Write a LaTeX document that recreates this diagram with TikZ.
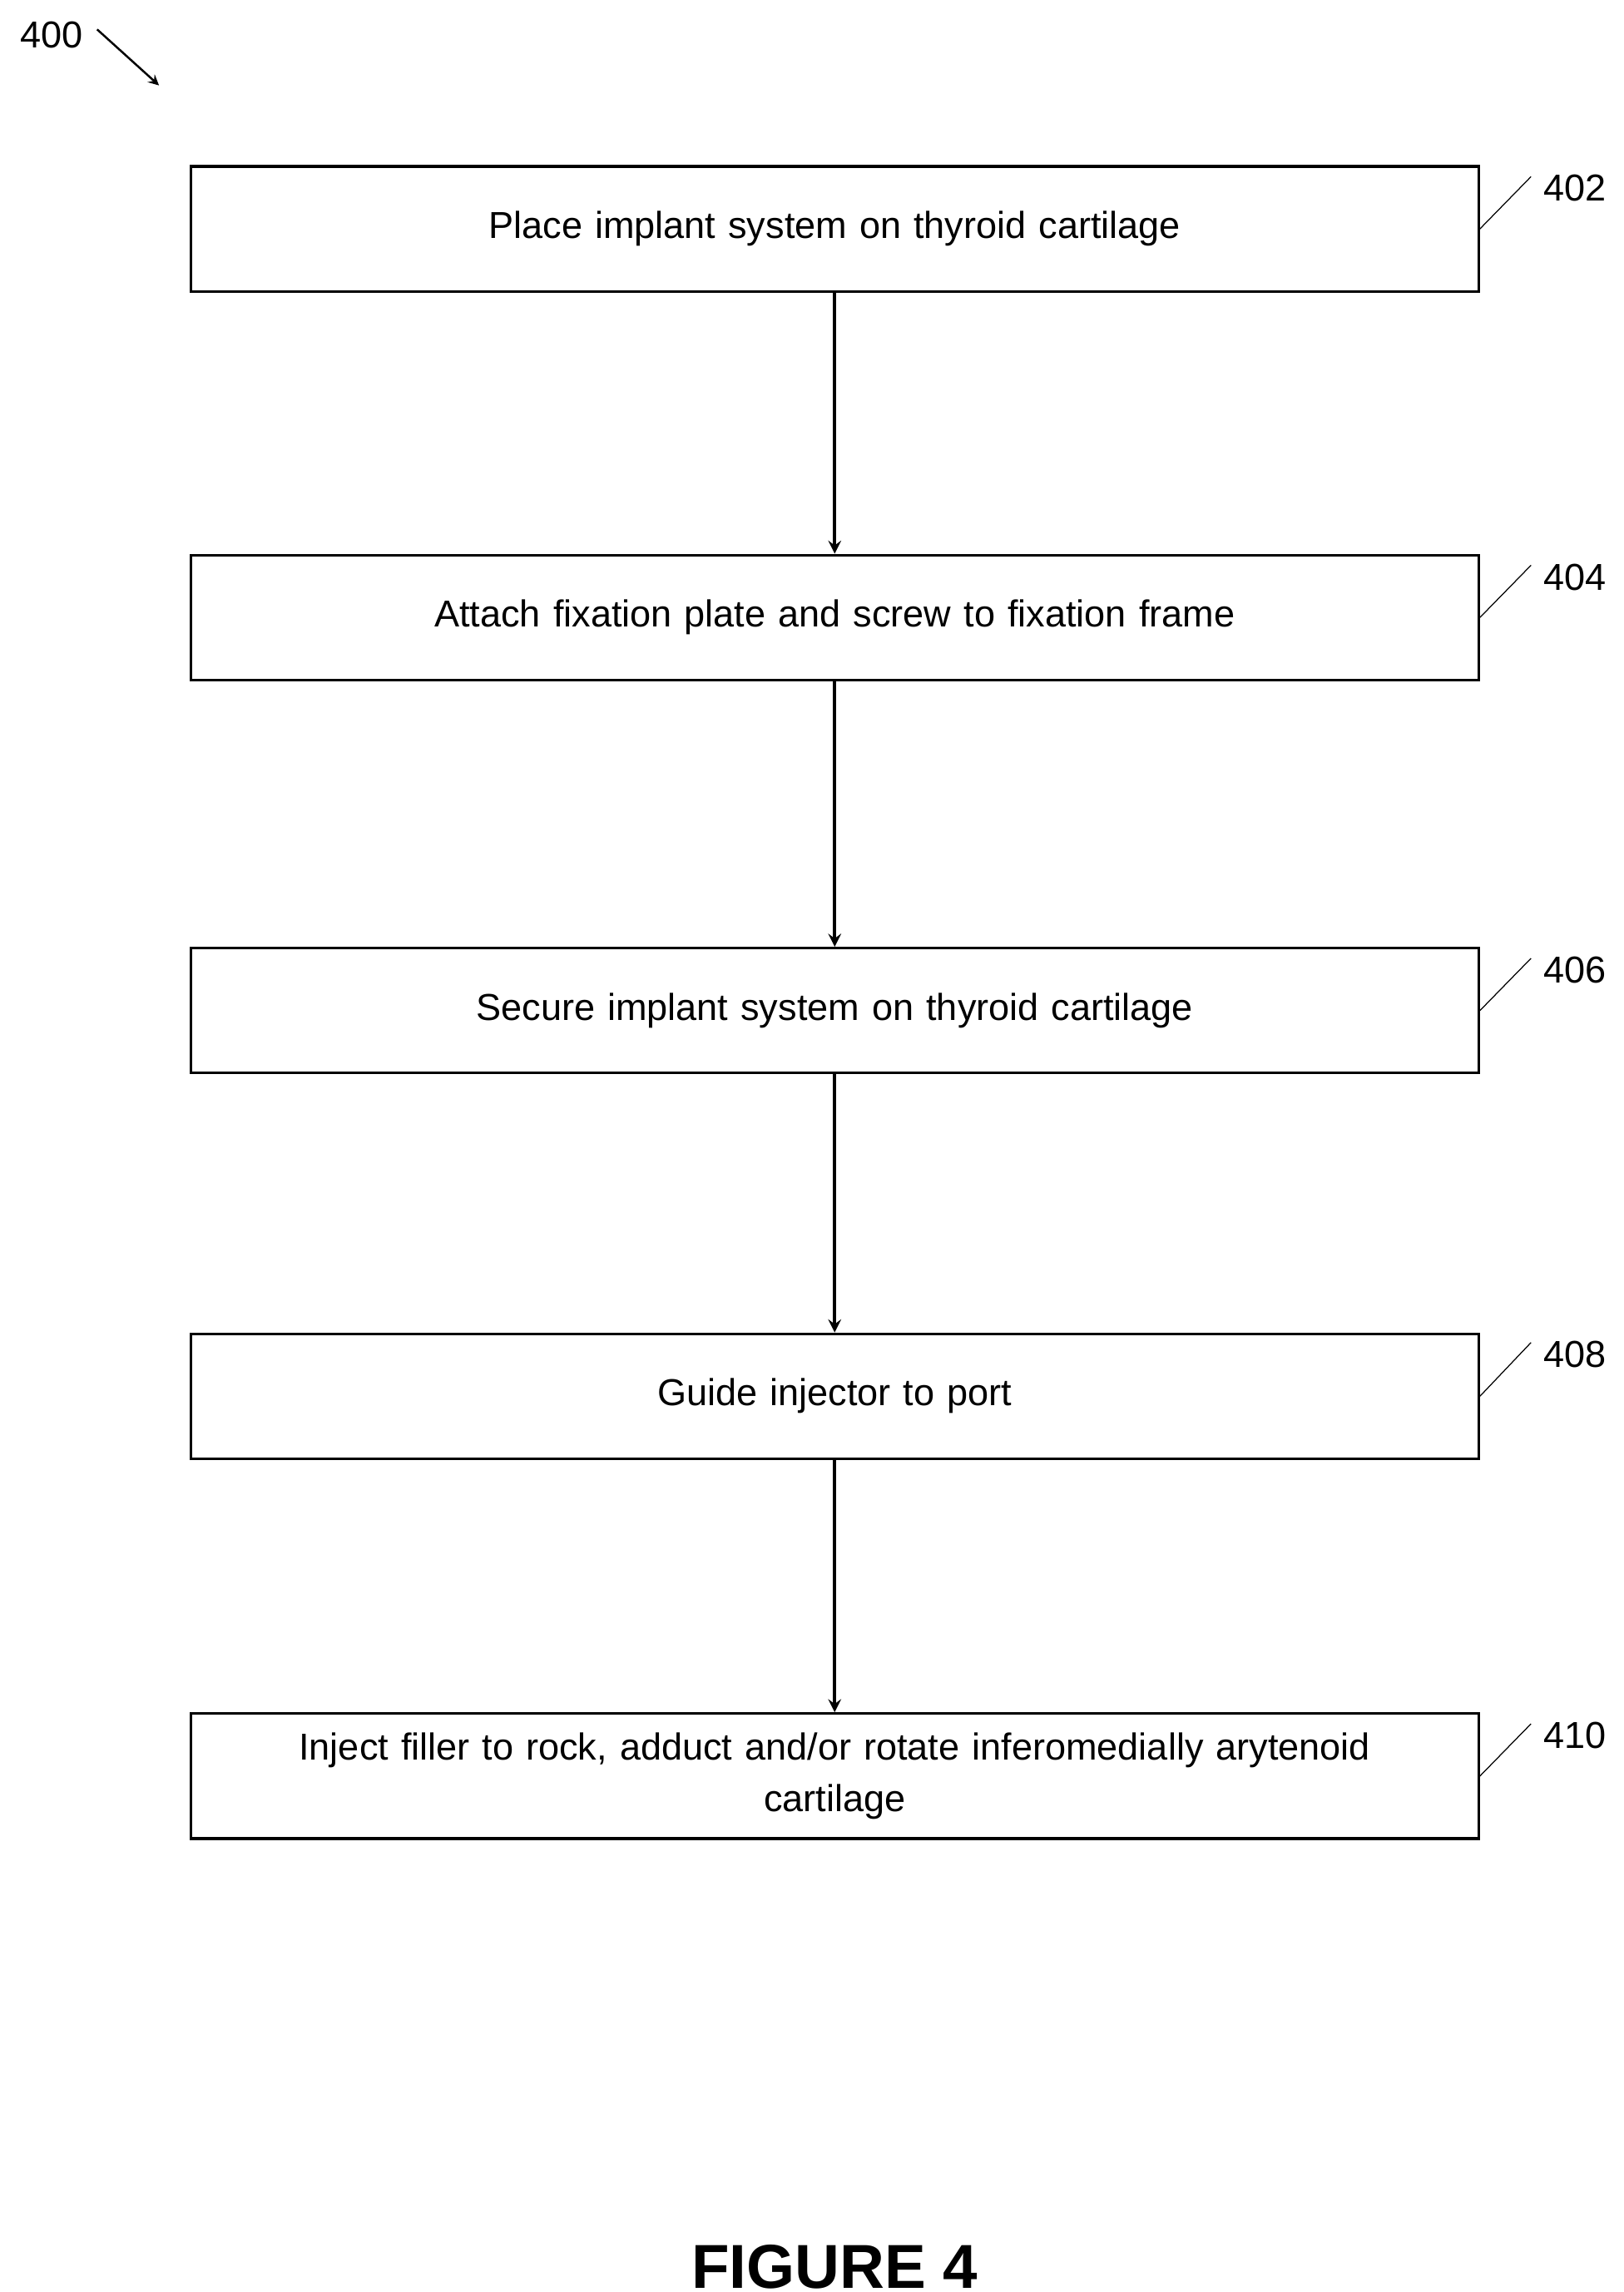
\documentclass[tikz,border=0pt]{standalone}
\usepackage{fontspec}
\setmainfont{Liberation Sans}
\usetikzlibrary{positioning}

\begin{document}
\begin{tikzpicture}[x=0.02cm,y=-0.02cm,
        stepbox/.style={draw,line width=1pt,minimum width=17.5cm,minimum height=1.7cm,
                     align=center,text width=16.8cm,font=\fontsize{14.5}{20}\selectfont},
        ref/.style={font=\fontsize{14.5}{17}\selectfont},
        flow/.style={->,line width=1.2pt,>=stealth}]
        \useasboundingbox (0,0) rectangle (1103,1557);

        \node[stepbox] at (567,155.5) (s402) {Place implant system on thyroid cartilage};
        \node[stepbox] at (567,419.5) (s404) {Attach fixation plate and screw to fixation frame};
        \node[stepbox] at (567,686.5) (s406) {Secure implant system on thyroid cartilage};
        \node[stepbox] at (567,948.5) (s408) {Guide injector to port};
        \node[stepbox] at (567,1206.5) (s410) {Inject filler to rock, adduct and/or rotate inferomedially arytenoid\\cartilage};

        \draw[flow] (s402) -- (s404);
        \draw[flow] (s404) -- (s406);
        \draw[flow] (s406) -- (s408);
        \draw[flow] (s408) -- (s410);

        % reference numerals
        \foreach \s/\y in {402/128,404/392,406/659,408/920,410/1179} {
            \node[ref] at (1070,\y) (n\s) {\s};
            \coordinate (t\s) at (1040,\y-8);
            \draw (s\s.east) -- (t\s);
        }

        \node[ref] at (35,24) (n400) {400};
        \coordinate (a400) at (108,58);
        \draw[flow,line width=0.8pt] (66,20) -- (a400);

        \node[font=\bfseries\fontsize{24}{28}\selectfont] at (567,1540) (fig) {FIGURE 4};
\end{tikzpicture}
\end{document}
